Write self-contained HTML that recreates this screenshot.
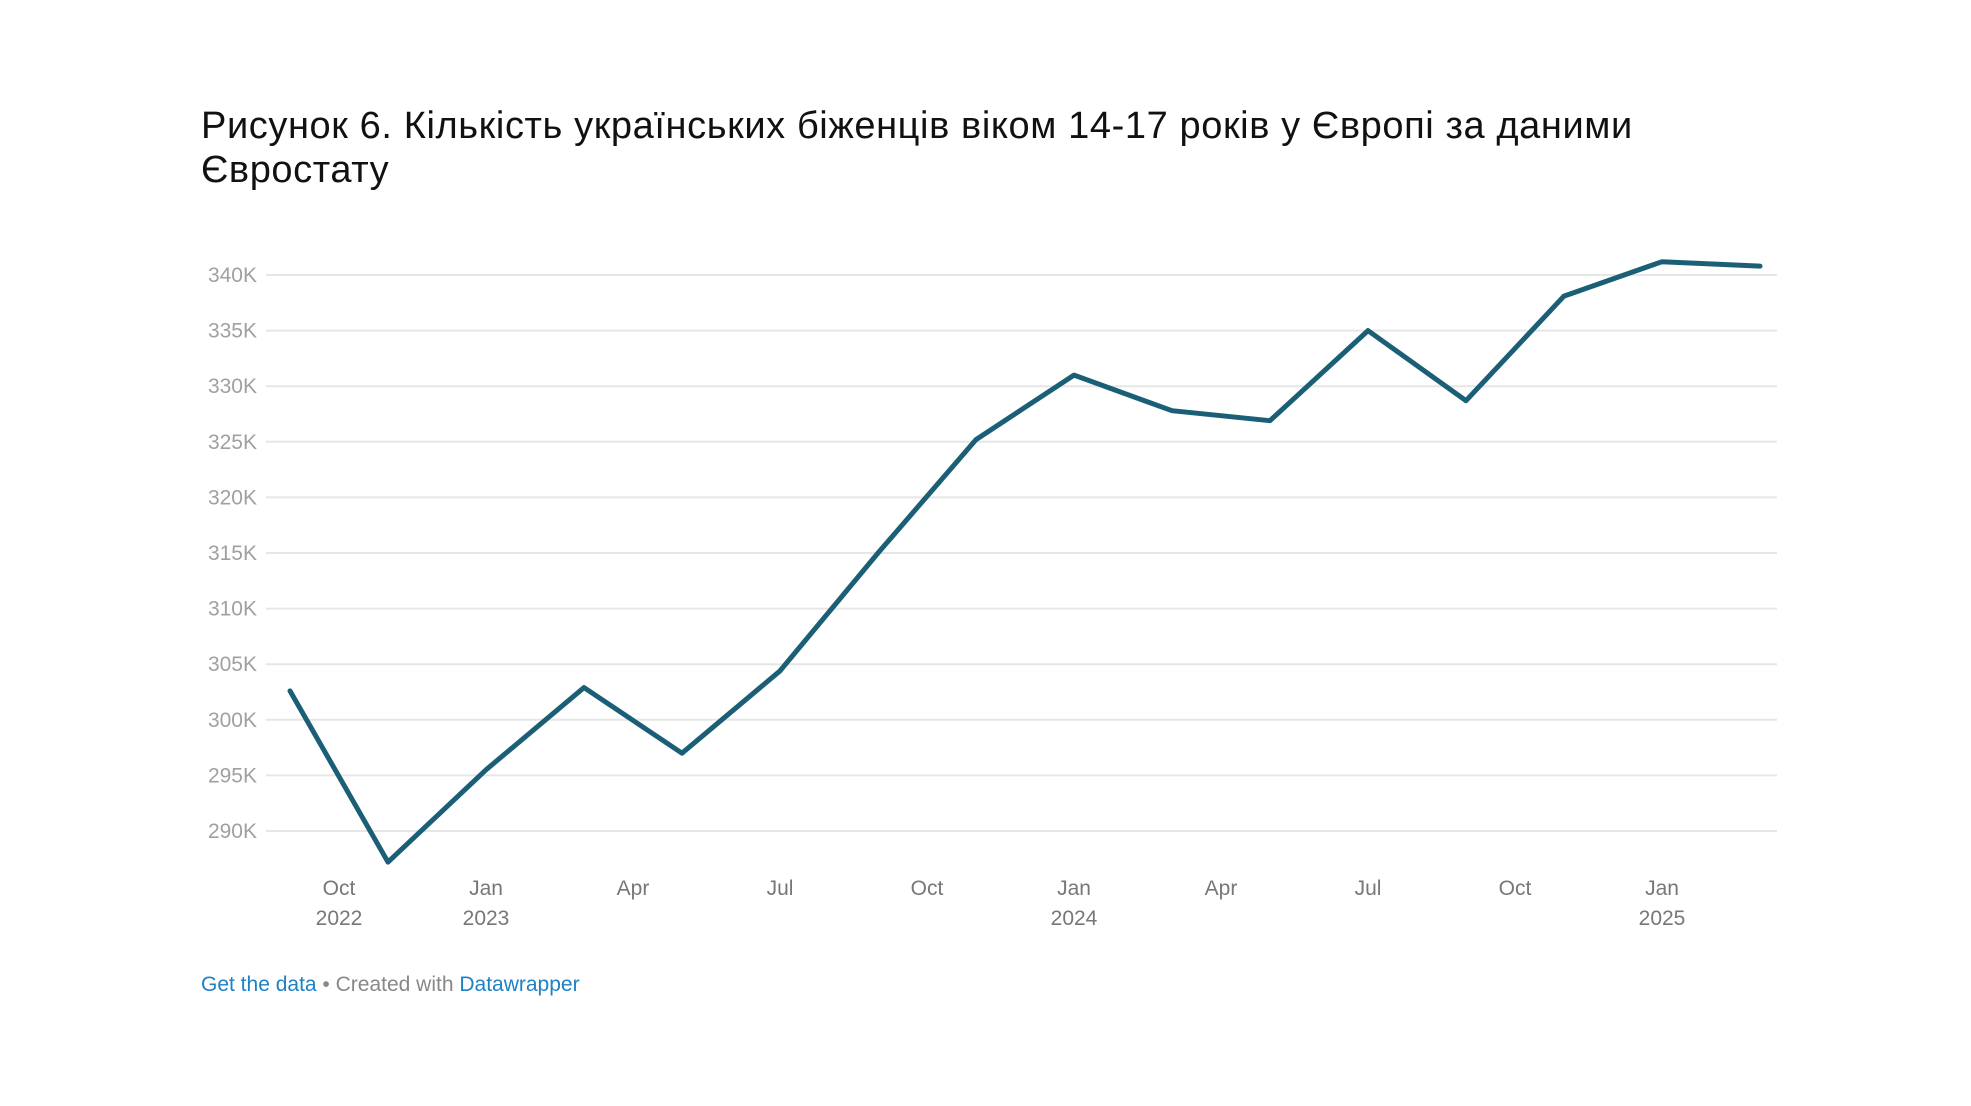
<!DOCTYPE html>
<html><head><meta charset="utf-8"><style>
html,body{margin:0;padding:0;background:#fff;width:1971px;height:1106px;overflow:hidden;font-family:"Liberation Sans",sans-serif}
#title{position:absolute;left:201px;top:104px;width:1500px;font-size:38px;line-height:44px;color:#111;letter-spacing:0.6px}
#footer{position:absolute;left:201px;top:973px;font-size:21px;color:#888}
#footer a{color:#1d81c4;text-decoration:none}
svg{position:absolute;left:0;top:0}
</style></head><body>
<div id="title">Рисунок 6. Кількість українських біженців віком 14-17 років у Європі за даними Євростату</div>
<svg id="chart" width="1971" height="1106"></svg>
<div id="footer"><a href="#">Get the data</a> • Created with <a href="#">Datawrapper</a></div>
<script>
const months = ["2022-09","2022-11","2023-01","2023-03","2023-05","2023-07","2023-09","2023-11","2024-01","2024-03","2024-05","2024-07","2024-09","2024-11","2025-01","2025-03"];
const values = [302.6,287.2,295.5,302.9,297.0,304.4,315.0,325.2,331.0,327.8,326.9,335.0,328.7,338.1,341.2,340.8];
const yTicks = [290,295,300,305,310,315,320,325,330,335,340];
const xTickMonths = ["2022-10","2023-01","2023-04","2023-07","2023-10","2024-01","2024-04","2024-07","2024-10","2025-01"];
const xTickLabels = ["Oct","Jan","Apr","Jul","Oct","Jan","Apr","Jul","Oct","Jan"];
const xTickYears = ["2022","2023","","","","2024","","","","2025"];

const NS="http://www.w3.org/2000/svg";
const svg=document.getElementById('chart');
function mi(s){const [y,m]=s.split('-').map(Number);return y*12+m-1;}
const m0=mi(months[0]), m1=mi(months[months.length-1]);
function x(s){return 290+(mi(s)-m0)*(1760-290)/(m1-m0);}
function y(v){return 275+(340-v)*(831-275)/50;}
function el(t,a){const e=document.createElementNS(NS,t);for(const k in a)e.setAttribute(k,a[k]);svg.appendChild(e);return e;}
yTicks.forEach(v=>{
  const g=el('line',{x1:266,x2:1777,y1:y(v),y2:y(v),stroke:'#e6e6e6','stroke-width':2});
  
  
  const t=el('text',{x:257,y:y(v)+7,'text-anchor':'end','font-size':21,fill:'#a0a0a0','font-family':'Liberation Sans, sans-serif'});
  t.textContent=v+'K';
  
  
});
xTickMonths.forEach((m,i)=>{
  const t=el('text',{x:x(m),y:895,'text-anchor':'middle','font-size':21,fill:'#777','font-family':'Liberation Sans, sans-serif'});
  t.textContent=xTickLabels[i];
  
  
  if(xTickYears[i]){
    const t2=el('text',{x:x(m),y:925,'text-anchor':'middle','font-size':21,fill:'#777','font-family':'Liberation Sans, sans-serif'});
    t2.textContent=xTickYears[i];
    
    
  }
});
const d=months.map((m,i)=>(i?'L':'M')+x(m).toFixed(1)+','+y(values[i]).toFixed(1)).join(' ');
const p=el('path',{d:d,fill:'none',stroke:'#1b5f77','stroke-width':5,'stroke-linejoin':'round','stroke-linecap':'round'});


</script>
</body></html>
